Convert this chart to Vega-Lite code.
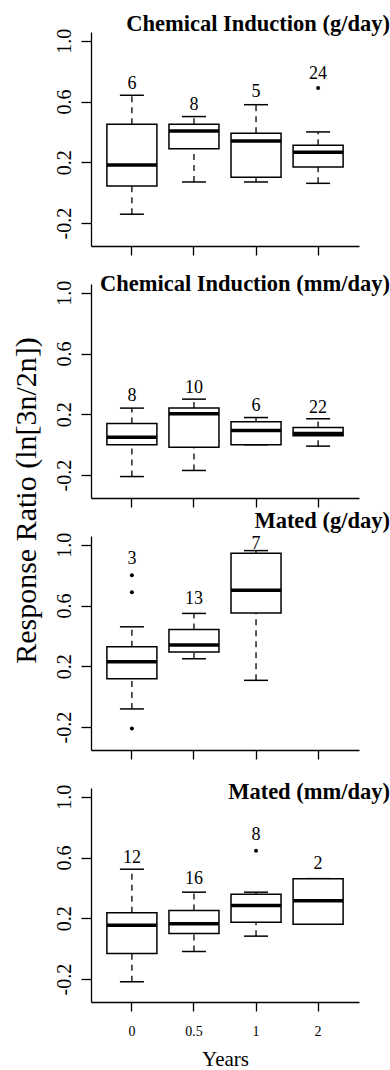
{
  "$schema": "https://vega.github.io/schema/vega-lite/v6.json",
  "background": "white",
  "padding": {"left": 11, "top": 12, "right": 0, "bottom": 0},
  "bounds": "flush",
  "spacing": 38,
  "config": {
    "view": {"stroke": null},
    "text": {"font": "Liberation Serif"}
  },
  "datasets": {
    "boxes": [
      {"panel": "P1", "years": "0", "lower": -0.141, "q1": 0.045, "median": 0.183, "q3": 0.450, "upper": 0.641, "n": 6, "label_y": 0.715},
      {"panel": "P1", "years": "0.5", "lower": 0.071, "q1": 0.290, "median": 0.406, "q3": 0.450, "upper": 0.501, "n": 8, "label_y": 0.579},
      {"panel": "P1", "years": "1", "lower": 0.071, "q1": 0.102, "median": 0.341, "q3": 0.391, "upper": 0.579, "n": 5, "label_y": 0.660},
      {"panel": "P1", "years": "2", "lower": 0.062, "q1": 0.170, "median": 0.266, "q3": 0.312, "upper": 0.400, "n": 24, "label_y": 0.779},
      {"panel": "P2", "years": "0", "lower": -0.209, "q1": 0.000, "median": 0.050, "q3": 0.140, "upper": 0.241, "n": 8, "label_y": 0.318},
      {"panel": "P2", "years": "0.5", "lower": -0.169, "q1": -0.016, "median": 0.204, "q3": 0.241, "upper": 0.300, "n": 10, "label_y": 0.373},
      {"panel": "P2", "years": "1", "lower": 0.000, "q1": 0.000, "median": 0.094, "q3": 0.151, "upper": 0.179, "n": 6, "label_y": 0.258},
      {"panel": "P2", "years": "2", "lower": -0.009, "q1": 0.059, "median": 0.074, "q3": 0.114, "upper": 0.171, "n": 22, "label_y": 0.241},
      {"panel": "P3", "years": "0", "lower": -0.080, "q1": 0.119, "median": 0.231, "q3": 0.329, "upper": 0.460, "n": 3, "label_y": 0.908},
      {"panel": "P3", "years": "0.5", "lower": 0.250, "q1": 0.294, "median": 0.340, "q3": 0.443, "upper": 0.548, "n": 13, "label_y": 0.646},
      {"panel": "P3", "years": "1", "lower": 0.108, "q1": 0.550, "median": 0.701, "q3": 0.943, "upper": 0.961, "n": 7, "label_y": 1.005},
      {"panel": "P4", "years": "0", "lower": -0.217, "q1": -0.031, "median": 0.155, "q3": 0.236, "upper": 0.523, "n": 12, "label_y": 0.597},
      {"panel": "P4", "years": "0.5", "lower": -0.018, "q1": 0.100, "median": 0.164, "q3": 0.251, "upper": 0.372, "n": 16, "label_y": 0.457},
      {"panel": "P4", "years": "1", "lower": 0.083, "q1": 0.175, "median": 0.284, "q3": 0.358, "upper": 0.372, "n": 8, "label_y": 0.748},
      {"panel": "P4", "years": "2", "lower": 0.161, "q1": 0.161, "median": 0.315, "q3": 0.461, "upper": 0.461, "n": 2, "label_y": 0.560}
    ],
    "outliers": [
      {"panel": "P1", "years": "2", "value": 0.689},
      {"panel": "P3", "years": "0", "value": 0.799},
      {"panel": "P3", "years": "0", "value": 0.687},
      {"panel": "P3", "years": "0", "value": -0.209},
      {"panel": "P4", "years": "1", "value": 0.645}
    ]
  },
  "vconcat": [
    {
      "width": 268, "height": 214,
      "title": {"text": "Chemical Induction (g/day)", "anchor": "end", "frame": "group", "dx": 31, "offset": -24.9, "baseline": "alphabetic", "font": "Liberation Serif", "fontSize": 22.5, "fontWeight": "bold", "color": "black"},
      "layer": [
        {"data": {"name": "boxes"}, "transform": [{"filter": "datum.panel == 'P1'"}],
         "mark": {"type": "rule", "strokeDash": [6, 5], "strokeWidth": 1.3, "color": "black"},
         "encoding": {
           "x": {"field": "years", "type": "nominal", "scale": {"domain": ["0", "0.5", "1", "2"], "paddingInner": 0.194, "paddingOuter": 0.256},
                 "axis": {"labels": false, "title": null, "tickSize": 9, "tickColor": "black", "tickWidth": 1.3, "domainColor": "black", "domainWidth": 1.3, "grid": false}},
           "y": {"field": "q3", "type": "quantitative", "scale": {"domain": [-0.35, 1.057], "nice": false, "zero": false},
                 "axis": {"values": [-0.2, 0, 0.2, 0.4, 0.6, 0.8, 1.0], "labelExpr": "datum.value > 0.9 ? '1.0' : (datum.value > 0.5 && datum.value < 0.7) ? '0.6' : (datum.value > 0.1 && datum.value < 0.3) ? '0.2' : datum.value < -0.1 ? '-0.2' : ''", "labelAngle": -90, "labelAlign": "center", "labelBaseline": "alphabetic", "labelFont": "Liberation Serif", "labelFontSize": 20, "labelColor": "black", "labelPadding": 11, "tickSize": 10, "tickColor": "black", "tickWidth": 1.3, "domainColor": "black", "domainWidth": 1.3, "grid": false, "title": null, "labelOverlap": false, "labelFlush": false}},
           "y2": {"field": "upper"}
         }},
        {"data": {"name": "boxes"}, "transform": [{"filter": "datum.panel == 'P1'"}],
         "mark": {"type": "rule", "strokeDash": [6, 5], "strokeWidth": 1.3, "color": "black"},
         "encoding": {"x": {"field": "years", "type": "nominal"}, "y": {"field": "lower", "type": "quantitative"}, "y2": {"field": "q1"}}},
        {"data": {"name": "boxes"}, "transform": [{"filter": "datum.panel == 'P1'"}],
         "mark": {"type": "tick", "size": 24, "thickness": 1.5, "color": "black", "opacity": 1},
         "encoding": {"x": {"field": "years", "type": "nominal"}, "y": {"field": "upper", "type": "quantitative"}}},
        {"data": {"name": "boxes"}, "transform": [{"filter": "datum.panel == 'P1'"}],
         "mark": {"type": "tick", "size": 24, "thickness": 1.5, "color": "black", "opacity": 1},
         "encoding": {"x": {"field": "years", "type": "nominal"}, "y": {"field": "lower", "type": "quantitative"}}},
        {"data": {"name": "boxes"}, "transform": [{"filter": "datum.panel == 'P1'"}],
         "mark": {"type": "bar", "fill": "white", "stroke": "black", "strokeWidth": 1.5},
         "encoding": {"x": {"field": "years", "type": "nominal"}, "y": {"field": "q1", "type": "quantitative"}, "y2": {"field": "q3"}}},
        {"data": {"name": "boxes"}, "transform": [{"filter": "datum.panel == 'P1'"}],
         "mark": {"type": "tick", "size": 50, "thickness": 3.5, "color": "black", "opacity": 1},
         "encoding": {"x": {"field": "years", "type": "nominal"}, "y": {"field": "median", "type": "quantitative"}}},
        {"data": {"name": "outliers"}, "transform": [{"filter": "datum.panel == 'P1'"}],
         "mark": {"type": "point", "filled": true, "color": "black", "size": 16, "opacity": 1},
         "encoding": {"x": {"field": "years", "type": "nominal"}, "y": {"field": "value", "type": "quantitative"}}},
        {"data": {"name": "boxes"}, "transform": [{"filter": "datum.panel == 'P1'"}],
         "mark": {"type": "text", "font": "Liberation Serif", "fontSize": 18, "color": "black", "baseline": "middle"},
         "encoding": {"x": {"field": "years", "type": "nominal"}, "y": {"field": "label_y", "type": "quantitative"}, "text": {"field": "n", "type": "quantitative"}}}
      ]
    },
    {
      "width": 268, "height": 214,
      "title": {"text": "Chemical Induction (mm/day)", "anchor": "end", "frame": "group", "dx": 31, "offset": -32.9, "baseline": "alphabetic", "font": "Liberation Serif", "fontSize": 22.5, "fontWeight": "bold", "color": "black"},
      "layer": [
        {"data": {"name": "boxes"}, "transform": [{"filter": "datum.panel == 'P2'"}],
         "mark": {"type": "rule", "strokeDash": [6, 5], "strokeWidth": 1.3, "color": "black"},
         "encoding": {
           "x": {"field": "years", "type": "nominal", "scale": {"domain": ["0", "0.5", "1", "2"], "paddingInner": 0.194, "paddingOuter": 0.256},
                 "axis": {"labels": false, "title": null, "tickSize": 9, "tickColor": "black", "tickWidth": 1.3, "domainColor": "black", "domainWidth": 1.3, "grid": false}},
           "y": {"field": "q3", "type": "quantitative", "scale": {"domain": [-0.35, 1.057], "nice": false, "zero": false},
                 "axis": {"values": [-0.2, 0, 0.2, 0.4, 0.6, 0.8, 1.0], "labelExpr": "datum.value > 0.9 ? '1.0' : (datum.value > 0.5 && datum.value < 0.7) ? '0.6' : (datum.value > 0.1 && datum.value < 0.3) ? '0.2' : datum.value < -0.1 ? '-0.2' : ''", "labelAngle": -90, "labelAlign": "center", "labelBaseline": "alphabetic", "labelFont": "Liberation Serif", "labelFontSize": 20, "labelColor": "black", "labelPadding": 11, "tickSize": 10, "tickColor": "black", "tickWidth": 1.3, "domainColor": "black", "domainWidth": 1.3, "grid": false, "labelOverlap": false, "labelFlush": false,
                          "title": "Response Ratio (ln[3n/2n])", "titleFont": "Liberation Serif", "titleFontSize": 30, "titleFontWeight": "normal", "titleColor": "black", "titleAngle": -90, "titleAlign": "center", "titleBaseline": "alphabetic", "titleX": -56, "titleY": 216}},
           "y2": {"field": "upper"}
         }},
        {"data": {"name": "boxes"}, "transform": [{"filter": "datum.panel == 'P2'"}],
         "mark": {"type": "rule", "strokeDash": [6, 5], "strokeWidth": 1.3, "color": "black"},
         "encoding": {"x": {"field": "years", "type": "nominal"}, "y": {"field": "lower", "type": "quantitative"}, "y2": {"field": "q1"}}},
        {"data": {"name": "boxes"}, "transform": [{"filter": "datum.panel == 'P2'"}],
         "mark": {"type": "tick", "size": 24, "thickness": 1.5, "color": "black", "opacity": 1},
         "encoding": {"x": {"field": "years", "type": "nominal"}, "y": {"field": "upper", "type": "quantitative"}}},
        {"data": {"name": "boxes"}, "transform": [{"filter": "datum.panel == 'P2'"}],
         "mark": {"type": "tick", "size": 24, "thickness": 1.5, "color": "black", "opacity": 1},
         "encoding": {"x": {"field": "years", "type": "nominal"}, "y": {"field": "lower", "type": "quantitative"}}},
        {"data": {"name": "boxes"}, "transform": [{"filter": "datum.panel == 'P2'"}],
         "mark": {"type": "bar", "fill": "white", "stroke": "black", "strokeWidth": 1.5},
         "encoding": {"x": {"field": "years", "type": "nominal"}, "y": {"field": "q1", "type": "quantitative"}, "y2": {"field": "q3"}}},
        {"data": {"name": "boxes"}, "transform": [{"filter": "datum.panel == 'P2'"}],
         "mark": {"type": "tick", "size": 50, "thickness": 3.5, "color": "black", "opacity": 1},
         "encoding": {"x": {"field": "years", "type": "nominal"}, "y": {"field": "median", "type": "quantitative"}}},
        {"data": {"name": "boxes"}, "transform": [{"filter": "datum.panel == 'P2'"}],
         "mark": {"type": "text", "font": "Liberation Serif", "fontSize": 18, "color": "black", "baseline": "middle"},
         "encoding": {"x": {"field": "years", "type": "nominal"}, "y": {"field": "label_y", "type": "quantitative"}, "text": {"field": "n", "type": "quantitative"}}}
      ]
    },
    {
      "width": 268, "height": 214,
      "title": {"text": "Mated (g/day)", "anchor": "end", "frame": "group", "dx": 31, "offset": -18.7, "baseline": "alphabetic", "font": "Liberation Serif", "fontSize": 22.5, "fontWeight": "bold", "color": "black"},
      "layer": [
        {"data": {"name": "boxes"}, "transform": [{"filter": "datum.panel == 'P3'"}],
         "mark": {"type": "rule", "strokeDash": [6, 5], "strokeWidth": 1.3, "color": "black"},
         "encoding": {
           "x": {"field": "years", "type": "nominal", "scale": {"domain": ["0", "0.5", "1", "2"], "paddingInner": 0.194, "paddingOuter": 0.256},
                 "axis": {"labels": false, "title": null, "tickSize": 9, "tickColor": "black", "tickWidth": 1.3, "domainColor": "black", "domainWidth": 1.3, "grid": false}},
           "y": {"field": "q3", "type": "quantitative", "scale": {"domain": [-0.35, 1.057], "nice": false, "zero": false},
                 "axis": {"values": [-0.2, 0, 0.2, 0.4, 0.6, 0.8, 1.0], "labelExpr": "datum.value > 0.9 ? '1.0' : (datum.value > 0.5 && datum.value < 0.7) ? '0.6' : (datum.value > 0.1 && datum.value < 0.3) ? '0.2' : datum.value < -0.1 ? '-0.2' : ''", "labelAngle": -90, "labelAlign": "center", "labelBaseline": "alphabetic", "labelFont": "Liberation Serif", "labelFontSize": 20, "labelColor": "black", "labelPadding": 11, "tickSize": 10, "tickColor": "black", "tickWidth": 1.3, "domainColor": "black", "domainWidth": 1.3, "grid": false, "title": null, "labelOverlap": false, "labelFlush": false}},
           "y2": {"field": "upper"}
         }},
        {"data": {"name": "boxes"}, "transform": [{"filter": "datum.panel == 'P3'"}],
         "mark": {"type": "rule", "strokeDash": [6, 5], "strokeWidth": 1.3, "color": "black"},
         "encoding": {"x": {"field": "years", "type": "nominal"}, "y": {"field": "lower", "type": "quantitative"}, "y2": {"field": "q1"}}},
        {"data": {"name": "boxes"}, "transform": [{"filter": "datum.panel == 'P3'"}],
         "mark": {"type": "tick", "size": 24, "thickness": 1.5, "color": "black", "opacity": 1},
         "encoding": {"x": {"field": "years", "type": "nominal"}, "y": {"field": "upper", "type": "quantitative"}}},
        {"data": {"name": "boxes"}, "transform": [{"filter": "datum.panel == 'P3'"}],
         "mark": {"type": "tick", "size": 24, "thickness": 1.5, "color": "black", "opacity": 1},
         "encoding": {"x": {"field": "years", "type": "nominal"}, "y": {"field": "lower", "type": "quantitative"}}},
        {"data": {"name": "boxes"}, "transform": [{"filter": "datum.panel == 'P3'"}],
         "mark": {"type": "bar", "fill": "white", "stroke": "black", "strokeWidth": 1.5},
         "encoding": {"x": {"field": "years", "type": "nominal"}, "y": {"field": "q1", "type": "quantitative"}, "y2": {"field": "q3"}}},
        {"data": {"name": "boxes"}, "transform": [{"filter": "datum.panel == 'P3'"}],
         "mark": {"type": "tick", "size": 50, "thickness": 3.5, "color": "black", "opacity": 1},
         "encoding": {"x": {"field": "years", "type": "nominal"}, "y": {"field": "median", "type": "quantitative"}}},
        {"data": {"name": "outliers"}, "transform": [{"filter": "datum.panel == 'P3'"}],
         "mark": {"type": "point", "filled": true, "color": "black", "size": 16, "opacity": 1},
         "encoding": {"x": {"field": "years", "type": "nominal"}, "y": {"field": "value", "type": "quantitative"}}},
        {"data": {"name": "boxes"}, "transform": [{"filter": "datum.panel == 'P3'"}],
         "mark": {"type": "text", "font": "Liberation Serif", "fontSize": 18, "color": "black", "baseline": "middle"},
         "encoding": {"x": {"field": "years", "type": "nominal"}, "y": {"field": "label_y", "type": "quantitative"}, "text": {"field": "n", "type": "quantitative"}}}
      ]
    },
    {
      "width": 268, "height": 214,
      "title": {"text": "Mated (mm/day)", "anchor": "end", "frame": "group", "dx": 31, "offset": -37.2, "baseline": "alphabetic", "font": "Liberation Serif", "fontSize": 22.5, "fontWeight": "bold", "color": "black"},
      "layer": [
        {"data": {"name": "boxes"}, "transform": [{"filter": "datum.panel == 'P4'"}],
         "mark": {"type": "rule", "strokeDash": [6, 5], "strokeWidth": 1.3, "color": "black"},
         "encoding": {
           "x": {"field": "years", "type": "nominal", "scale": {"domain": ["0", "0.5", "1", "2"], "paddingInner": 0.194, "paddingOuter": 0.256},
                 "axis": {"labels": true, "labelAngle": 0, "labelFont": "Liberation Serif", "labelFontSize": 14, "labelColor": "black", "labelPadding": 13, "title": "Years", "titleFont": "Liberation Serif", "titleFontSize": 21, "titleFontWeight": "normal", "titleColor": "black", "titlePadding": 10, "tickSize": 9, "tickColor": "black", "tickWidth": 1.3, "domainColor": "black", "domainWidth": 1.3, "grid": false}},
           "y": {"field": "q3", "type": "quantitative", "scale": {"domain": [-0.35, 1.057], "nice": false, "zero": false},
                 "axis": {"values": [-0.2, 0, 0.2, 0.4, 0.6, 0.8, 1.0], "labelExpr": "datum.value > 0.9 ? '1.0' : (datum.value > 0.5 && datum.value < 0.7) ? '0.6' : (datum.value > 0.1 && datum.value < 0.3) ? '0.2' : datum.value < -0.1 ? '-0.2' : ''", "labelAngle": -90, "labelAlign": "center", "labelBaseline": "alphabetic", "labelFont": "Liberation Serif", "labelFontSize": 20, "labelColor": "black", "labelPadding": 11, "tickSize": 10, "tickColor": "black", "tickWidth": 1.3, "domainColor": "black", "domainWidth": 1.3, "grid": false, "title": null, "labelOverlap": false, "labelFlush": false}},
           "y2": {"field": "upper"}
         }},
        {"data": {"name": "boxes"}, "transform": [{"filter": "datum.panel == 'P4'"}],
         "mark": {"type": "rule", "strokeDash": [6, 5], "strokeWidth": 1.3, "color": "black"},
         "encoding": {"x": {"field": "years", "type": "nominal"}, "y": {"field": "lower", "type": "quantitative"}, "y2": {"field": "q1"}}},
        {"data": {"name": "boxes"}, "transform": [{"filter": "datum.panel == 'P4'"}],
         "mark": {"type": "tick", "size": 24, "thickness": 1.5, "color": "black", "opacity": 1},
         "encoding": {"x": {"field": "years", "type": "nominal"}, "y": {"field": "upper", "type": "quantitative"}}},
        {"data": {"name": "boxes"}, "transform": [{"filter": "datum.panel == 'P4'"}],
         "mark": {"type": "tick", "size": 24, "thickness": 1.5, "color": "black", "opacity": 1},
         "encoding": {"x": {"field": "years", "type": "nominal"}, "y": {"field": "lower", "type": "quantitative"}}},
        {"data": {"name": "boxes"}, "transform": [{"filter": "datum.panel == 'P4'"}],
         "mark": {"type": "bar", "fill": "white", "stroke": "black", "strokeWidth": 1.5},
         "encoding": {"x": {"field": "years", "type": "nominal"}, "y": {"field": "q1", "type": "quantitative"}, "y2": {"field": "q3"}}},
        {"data": {"name": "boxes"}, "transform": [{"filter": "datum.panel == 'P4'"}],
         "mark": {"type": "tick", "size": 50, "thickness": 3.5, "color": "black", "opacity": 1},
         "encoding": {"x": {"field": "years", "type": "nominal"}, "y": {"field": "median", "type": "quantitative"}}},
        {"data": {"name": "outliers"}, "transform": [{"filter": "datum.panel == 'P4'"}],
         "mark": {"type": "point", "filled": true, "color": "black", "size": 16, "opacity": 1},
         "encoding": {"x": {"field": "years", "type": "nominal"}, "y": {"field": "value", "type": "quantitative"}}},
        {"data": {"name": "boxes"}, "transform": [{"filter": "datum.panel == 'P4'"}],
         "mark": {"type": "text", "font": "Liberation Serif", "fontSize": 18, "color": "black", "baseline": "middle"},
         "encoding": {"x": {"field": "years", "type": "nominal"}, "y": {"field": "label_y", "type": "quantitative"}, "text": {"field": "n", "type": "quantitative"}}}
      ]
    }
  ]
}
